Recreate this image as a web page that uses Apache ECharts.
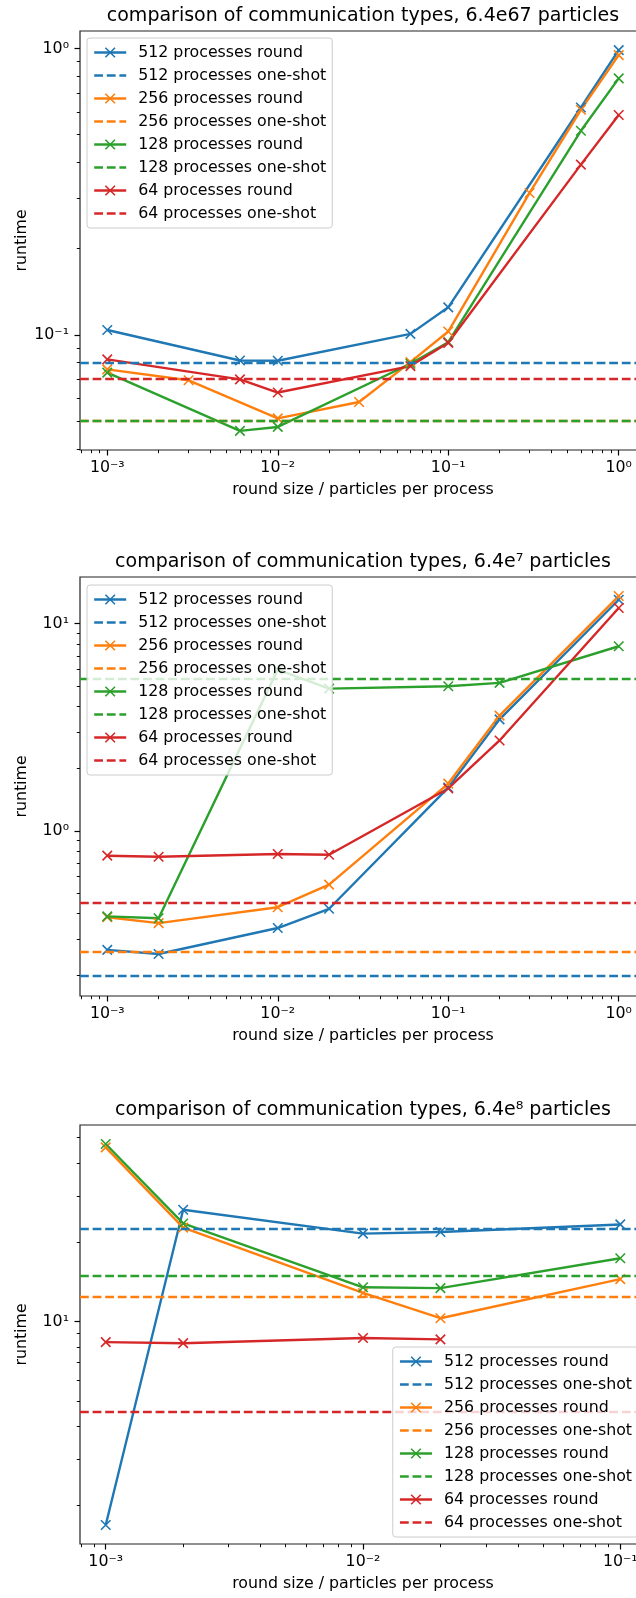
<!DOCTYPE html>
<html><head><meta charset="utf-8">
<script src="https://cdn.jsdelivr.net/npm/echarts@6/dist/echarts.min.js"></script>
<style>html,body{margin:0;padding:0;background:#fff}#c{width:636px;height:1598px}</style>
</head><body><div id="c"></div>
<script>
// ---------- data ----------
const procs = ['512', '256', '128', '64'];
const colors = ['#1f77b4', '#ff7f0e', '#2ca02c', '#d62728'];
const titles = [
  'comparison of communication types, 6.4e67 particles',
  'comparison of communication types, 6.4e\u2077 particles',
  'comparison of communication types, 6.4e\u2078 particles'
];
const xLabel = 'round size / particles per process';
const yLabel = 'runtime';

// chart 1 (6.4e67)
const c1_x512 = [0.001, 0.006, 0.01, 0.06, 0.1, 0.6, 1];
const c1_y512 = [0.104, 0.0814, 0.0812, 0.1008, 0.1248, 0.622, 0.987];
const c1_x256 = [0.001, 0.003, 0.01, 0.03, 0.06, 0.1, 0.3, 0.6, 1];
const c1_y256 = [0.0758, 0.0694, 0.0511, 0.0583, 0.0803, 0.1027, 0.313, 0.611, 0.948];
const c1_x128 = [0.001, 0.006, 0.01, 0.06, 0.1, 0.6, 1];
const c1_y128 = [0.0738, 0.0462, 0.0477, 0.0793, 0.0943, 0.516, 0.786];
const c1_x64 = [0.001, 0.006, 0.01, 0.06, 0.1, 0.6, 1];
const c1_y64 = [0.0821, 0.0699, 0.0629, 0.0778, 0.0938, 0.393, 0.586];
const c1_oneShot = [0.0825, 0.0518, 0.0527, 0.0703];

// chart 2 (6.4e7)
const c2_x = [0.001, 0.002, 0.01, 0.02, 0.1, 0.2, 1];
const c2_y512 = [0.266, 0.254, 0.339, 0.42, 1.617, 3.45, 13.05];
const c2_y256 = [0.3825, 0.358, 0.4274, 0.5495, 1.69, 3.6, 13.6];
const c2_y128 = [0.386, 0.378, 6.0, 4.86, 4.99, 5.18, 7.78];
const c2_y64 = [0.758, 0.749, 0.772, 0.766, 1.6, 2.73, 11.9];
const c2_oneShot = [0.1967, 0.2634, 5.41, 0.447];

// chart 3 (6.4e8)
const c3_x = [0.001, 0.002, 0.01, 0.02, 0.1];
const c3_y512 = [1.688, 26.6, 21.6, 21.9, 23.4];
const c3_y256 = [45.9, 22.75, 12.85, 10.3, 14.5];
const c3_y128 = [47.3, 23.6, 13.5, 13.4, 17.4];
const c3_x64 = [0.001, 0.002, 0.01, 0.02];
const c3_y64 = [8.36, 8.28, 8.66, 8.56];
const c3_oneShot = [22.6, 12.48, 14.96, 4.55];

// axis limits (as decimal exponents)
const c1_xExp = [-3.16, 0.16], c1_yExp = [-1.402, 0.061];
const c2_xExp = [-3.16, 0.16], c2_yExp = [-0.798, 1.2255];
const c3_xExp = [-3.1, -0.9],  c3_yExp = [0.155, 1.747];

// ---------- build ----------
const FONT = 'DejaVu Sans';
const X_SYMBOL = 'path://M0,0L10,10M0,10L10,0';
const DASH = [8.8, 3.8];
const SUP = {'-':'\u207B','0':'\u2070','1':'\u00B9','2':'\u00B2','3':'\u00B3','4':'\u2074','5':'\u2075','6':'\u2076','7':'\u2077','8':'\u2078','9':'\u2079'};
const sup = s => String(s).split('').map(c => SUP[c]).join('');
const majors = e => { const r = []; for (let n = Math.ceil(e[0]); n <= Math.floor(e[1]); n++) r.push(n); return r; };
const minors = e => { const r = []; for (let n = Math.floor(e[0]); n <= Math.ceil(e[1]); n++) for (let k = 2; k <= 9; k++) { const v = n + Math.log10(k); if (v > e[0] && v < e[1]) r.push(v); } return r; };

const charts = [
  { top: 31, titleTop: 7, xExp: c1_xExp, yExp: c1_yExp,
    round: [[c1_x512, c1_y512], [c1_x256, c1_y256], [c1_x128, c1_y128], [c1_x64, c1_y64]],
    oneShot: c1_oneShot, legend: { left: 87, top: 38 } },
  { top: 577, titleTop: 553, xExp: c2_xExp, yExp: c2_yExp,
    round: [[c2_x, c2_y512], [c2_x, c2_y256], [c2_x, c2_y128], [c2_x, c2_y64]],
    oneShot: c2_oneShot, legend: { left: 87, top: 585 } },
  { top: 1125, titleTop: 1101, xExp: c3_xExp, yExp: c3_yExp,
    round: [[c3_x, c3_y512], [c3_x, c3_y256], [c3_x, c3_y128], [c3_x64, c3_y64]],
    oneShot: c3_oneShot, legend: { right: -2, bottom: 61 } }
];

const option = { animation: false, textStyle: { fontFamily: FONT }, title: [], grid: [], xAxis: [], yAxis: [], legend: [], series: [] };
const txt = { fontFamily: FONT, fontSize: 15.8, color: '#000' };
const noLine = { show: false, onZero: false };

charts.forEach((ch, g) => {
  option.title.push({ text: titles[g], left: 363, top: ch.titleTop, textAlign: 'center', padding: 0,
    textStyle: { fontFamily: FONT, fontSize: 19, fontWeight: 'normal', color: '#000' } });
  option.grid.push({ left: 80, top: ch.top, width: 566, height: 419, show: true, borderColor: '#222', borderWidth: 1.2,
    backgroundColor: 'transparent', containLabel: false, outerBoundsMode: 'none' });
  const xa = 3 * g, ya = 3 * g;
  option.xAxis.push(
    { type: 'log', gridIndex: g, min: Math.pow(10, ch.xExp[0]), max: Math.pow(10, ch.xExp[1]), show: false, axisLine: noLine },
    { type: 'value', gridIndex: g, position: 'bottom', min: ch.xExp[0], max: ch.xExp[1],
      axisLine: noLine, splitLine: { show: false },
      axisTick: { show: true, length: 5.5, lineStyle: { color: '#000', width: 1.2 }, customValues: majors(ch.xExp) },
      axisLabel: { customValues: majors(ch.xExp), margin: 10, ...txt, formatter: v => '10' + sup(Math.round(v)) },
      name: xLabel, nameLocation: 'middle', nameGap: 32, nameTextStyle: txt },
    { type: 'value', gridIndex: g, position: 'bottom', min: ch.xExp[0], max: ch.xExp[1],
      axisLine: noLine, splitLine: { show: false }, axisLabel: { show: false },
      axisTick: { show: true, length: 3.2, lineStyle: { color: '#000', width: 0.95 }, customValues: minors(ch.xExp) } }
  );
  option.yAxis.push(
    { type: 'log', gridIndex: g, min: Math.pow(10, ch.yExp[0]), max: Math.pow(10, ch.yExp[1]), show: false, axisLine: noLine },
    { type: 'value', gridIndex: g, position: 'left', min: ch.yExp[0], max: ch.yExp[1],
      axisLine: noLine, splitLine: { show: false },
      axisTick: { show: true, length: 5.5, lineStyle: { color: '#000', width: 1.2 }, customValues: majors(ch.yExp) },
      axisLabel: { customValues: majors(ch.yExp), margin: 11, ...txt, formatter: v => '10' + sup(Math.round(v)) },
      name: yLabel, nameLocation: 'middle', nameGap: 50, nameRotate: 90, nameMoveOverlap: false, nameTextStyle: txt },
    { type: 'value', gridIndex: g, position: 'left', min: ch.yExp[0], max: ch.yExp[1],
      axisLine: noLine, splitLine: { show: false }, axisLabel: { show: false },
      axisTick: { show: true, length: 3.2, lineStyle: { color: '#000', width: 0.95 }, customValues: minors(ch.yExp) } }
  );
  const legendData = [];
  procs.forEach((p, i) => {
    const c = colors[i];
    const [xs, ys] = ch.round[i];
    option.series.push({
      type: 'line', name: p + ' processes round', xAxisIndex: xa, yAxisIndex: ya,
      data: xs.map((x, j) => [x, ys[j]]),
      symbol: X_SYMBOL, symbolSize: 9.5, showSymbol: true, showAllSymbol: true,
      lineStyle: { color: c, width: 2.4 }, itemStyle: { color: c, borderColor: c, borderWidth: 1.6 },
      emphasis: { disabled: true }, z: 2
    });
    option.series.push({
      type: 'line', name: p + ' processes one-shot', xAxisIndex: xa, yAxisIndex: ya,
      data: [], symbol: 'none', lineStyle: { color: c, width: 2.4, type: DASH }, itemStyle: { color: c },
      emphasis: { disabled: true }, z: 2,
      markLine: { silent: true, animation: false, symbol: ['none', 'none'], label: { show: false },
        lineStyle: { color: c, width: 2.4, type: DASH }, emphasis: { disabled: true },
        data: [{ yAxis: ch.oneShot[i] }] }
    });
    legendData.push({ name: p + ' processes round' });
    legendData.push({ name: p + ' processes one-shot', itemStyle: { opacity: 0 } });
  });
  option.legend.push(Object.assign({
    orient: 'vertical', itemWidth: 32, itemHeight: 12, itemGap: 6, padding: 6,
    backgroundColor: 'rgba(255,255,255,0.8)', borderColor: '#cccccc', borderWidth: 1, borderRadius: 3,
    selectedMode: false, data: legendData, formatter: '{t|{name}}',
    itemStyle: { borderWidth: 1.6 }, lineStyle: { width: 2.4 },
    textStyle: { ...txt, lineHeight: 17, rich: { t: { ...txt, lineHeight: 17, padding: [0, 0, 0, 7] } } },
    z: 10
  }, ch.legend));
});

const chart = echarts.init(document.getElementById('c'), null, { renderer: 'canvas' });
chart.setOption(option);
</script></body></html>
